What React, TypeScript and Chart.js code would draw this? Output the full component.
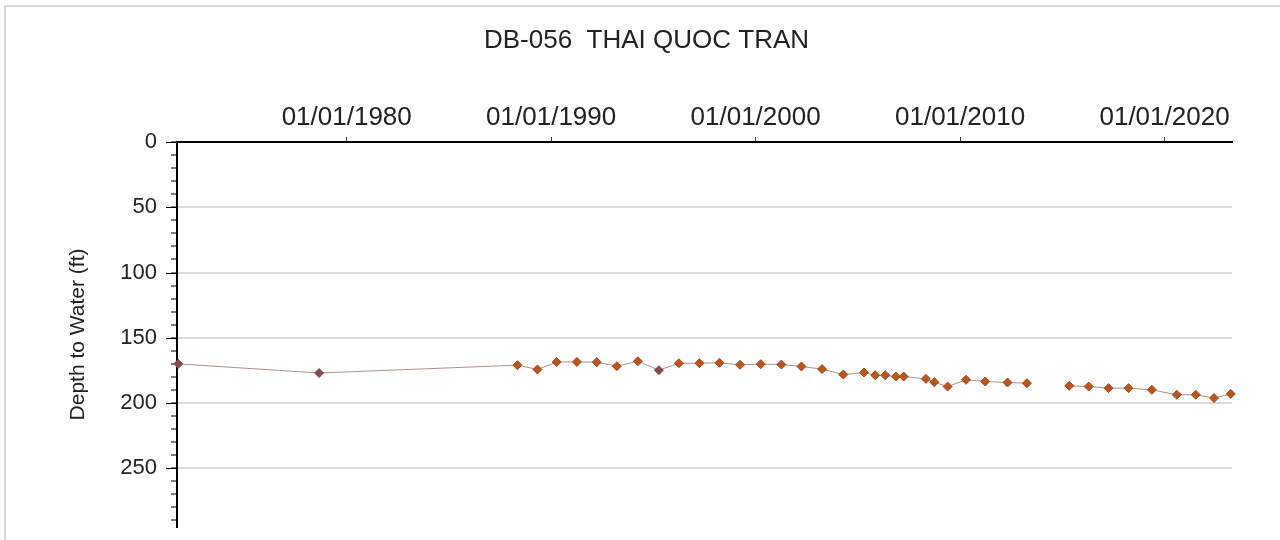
import React, { useEffect, useRef } from 'react';
import { Chart, registerables } from 'chart.js';

Chart.register(...registerables);

const chartTitle = 'DB-056  THAI QUOC TRAN';
const yAxisTitle = 'Depth to Water (ft)';

// measurement dates as decimal years (null depth = gap in record)
const measureYears = [
  1971.76, 1978.65, 1988.35, 1989.33, 1990.27, 1991.26, 1992.23, 1993.21, 1994.24, 1995.27,
  1996.25, 1997.25, 1998.23, 1999.24, 2000.25, 2001.26, 2002.24, 2003.25, 2004.29, 2005.3,
  2005.85, 2006.34, 2006.86, 2007.24, 2008.33, 2008.74, 2009.39, 2010.29, 2011.23, 2012.32,
  2013.27, 2014.3, 2015.34, 2016.29, 2017.26, 2018.24, 2019.38, 2020.6, 2021.53, 2022.42,
  2023.24,
];
const depthToWater: (number | null)[] = [
  170, 177, 171, 174.3, 168.6, 168.5, 168.7, 171.8, 168, 174.8,
  169.5, 169.5, 169.2, 170.7, 170.2, 170.5, 172, 174, 178.2, 176.6,
  178.7, 178.7, 179.7, 179.7, 181.5, 184, 187.4, 182.2, 183.5, 184.3,
  184.8, null, 186.8, 187.4, 188.6, 188.6, 189.9, 193.7, 193.7, 196.2,
  193,
];
const dimPointYears = [1971.76, 1978.65, 1995.27];

const xTickYears = [1980, 1990, 2000, 2010, 2020];
const xMinYear = 1971.7;
const xMaxYear = 2023.3;
const yMajorTicks = [0, 50, 100, 150, 200, 250];
const yMinorStep = 10;
const yMax = 295;

const FONT = "'Liberation Sans', Arial, Helvetica, sans-serif";

export default function App() {
  const ref = useRef<HTMLCanvasElement | null>(null);

  useEffect(() => {
    if (!ref.current) return;
    const points = measureYears.map((x, i) => ({ x, y: depthToWater[i] }));

    const majorTickPlugin = {
      id: 'majorTicks',
      afterDraw(chart: any) {
        const y = chart.scales.y;
        const ctx = chart.ctx;
        const left = chart.chartArea.left;
        ctx.save();
        ctx.strokeStyle = '#000';
        ctx.lineWidth = 1.2;
        ctx.beginPath();
        yMajorTicks.forEach((v) => {
          const py = Math.round(y.getPixelForValue(v)) + 0.5;
          ctx.moveTo(left - 11, py);
          ctx.lineTo(left, py);
        });
        ctx.stroke();
        ctx.restore();
      },
    };

    const chart = new Chart(ref.current, {
      type: 'line',
      data: {
        datasets: [
          {
            data: points as any,
            borderColor: '#b0908c',
            borderWidth: 1,
            pointStyle: 'rectRot',
            pointRadius: 4.5,
            pointBackgroundColor: (c: any) =>
              c.raw && dimPointYears.includes(c.raw.x) ? '#8a4a48' : '#b9561f',
            pointBorderColor: (c: any) =>
              c.raw && dimPointYears.includes(c.raw.x) ? '#7a5060' : '#a04a1c',
            pointBorderWidth: 1,
            spanGaps: false,
            clip: false as any,
            tension: 0,
          },
        ],
      },
      options: {
        animation: false,
        responsive: false,
        devicePixelRatio: 1,
        layout: { padding: { left: 61, right: 48, top: 0, bottom: 13 } },
        plugins: {
          legend: { display: false },
          tooltip: { enabled: false },
          title: {
            display: true,
            text: chartTitle,
            color: '#222',
            font: { family: FONT, size: 26, weight: 'normal' },
            padding: { top: 25, bottom: 10 },
          },
        },
        scales: {
          x: {
            type: 'linear',
            position: 'top',
            min: xMinYear,
            max: xMaxYear,
            afterBuildTicks: (s: any) => {
              s.ticks = xTickYears.map((v) => ({ value: v }));
            },
            afterFit: (s: any) => {
              s.height = 142 - (25 + 26 * 1.2 + 10);
              s.paddingLeft = 0;
              s.paddingRight = 0;
            },
            ticks: {
              autoSkip: false,
              maxRotation: 0,
              padding: 4,
              color: '#222',
              font: { family: FONT, size: 26 },
              callback: (v: any) => `01/01/${v}`,
            },
            grid: {
              drawOnChartArea: false,
              drawTicks: true,
              tickLength: 5,
              tickColor: '#444',
              tickWidth: 1,
            },
            border: { display: true, color: '#000', width: 2 },
          },
          y: {
            type: 'linear',
            reverse: true,
            min: 0,
            max: yMax,
            afterBuildTicks: (s: any) => {
              const t = [];
              for (let v = 0; v <= yMax; v += yMinorStep) t.push({ value: v });
              s.ticks = t;
            },
            afterFit: (s: any) => {
              s.width = 116;
              s.paddingTop = 0;
              s.paddingBottom = 0;
            },
            ticks: {
              autoSkip: false,
              padding: 14,
              color: '#222',
              font: { family: FONT, size: 22 },
              callback: (v: any) => (yMajorTicks.includes(v) ? String(v) : ''),
            },
            grid: {
              drawTicks: true,
              tickLength: 6,
              tickWidth: 1,
              tickColor: '#000',
              lineWidth: 2,
              color: (c: any) =>
                c.tick && c.tick.value !== 0 && c.tick.value % 50 === 0 ? '#dcdcdc' : 'rgba(0,0,0,0)',
            },
            border: { display: true, color: '#000', width: 2 },
            title: {
              display: true,
              text: yAxisTitle,
              color: '#222',
              font: { family: FONT, size: 21 },
              padding: { top: 5, bottom: 15 },
            },
          },
        },
      },
      plugins: [majorTickPlugin],
    });
    return () => chart.destroy();
  }, []);

  return (
    <div
      style={{
        position: 'fixed',
        left: 0,
        top: 0,
        width: 1280,
        height: 540,
        background: '#fff',
        overflow: 'hidden',
      }}
    >
      <div
        style={{
          position: 'absolute',
          left: 4,
          top: 5,
          width: 1300,
          height: 600,
          borderTop: '2px solid #d9d9d9',
          borderLeft: '2px solid #d9d9d9',
        }}
      />
      <canvas
        ref={ref}
        width={1280}
        height={540}
        style={{ position: 'absolute', left: 0, top: 0, width: 1280, height: 540 }}
      />
    </div>
  );
}
